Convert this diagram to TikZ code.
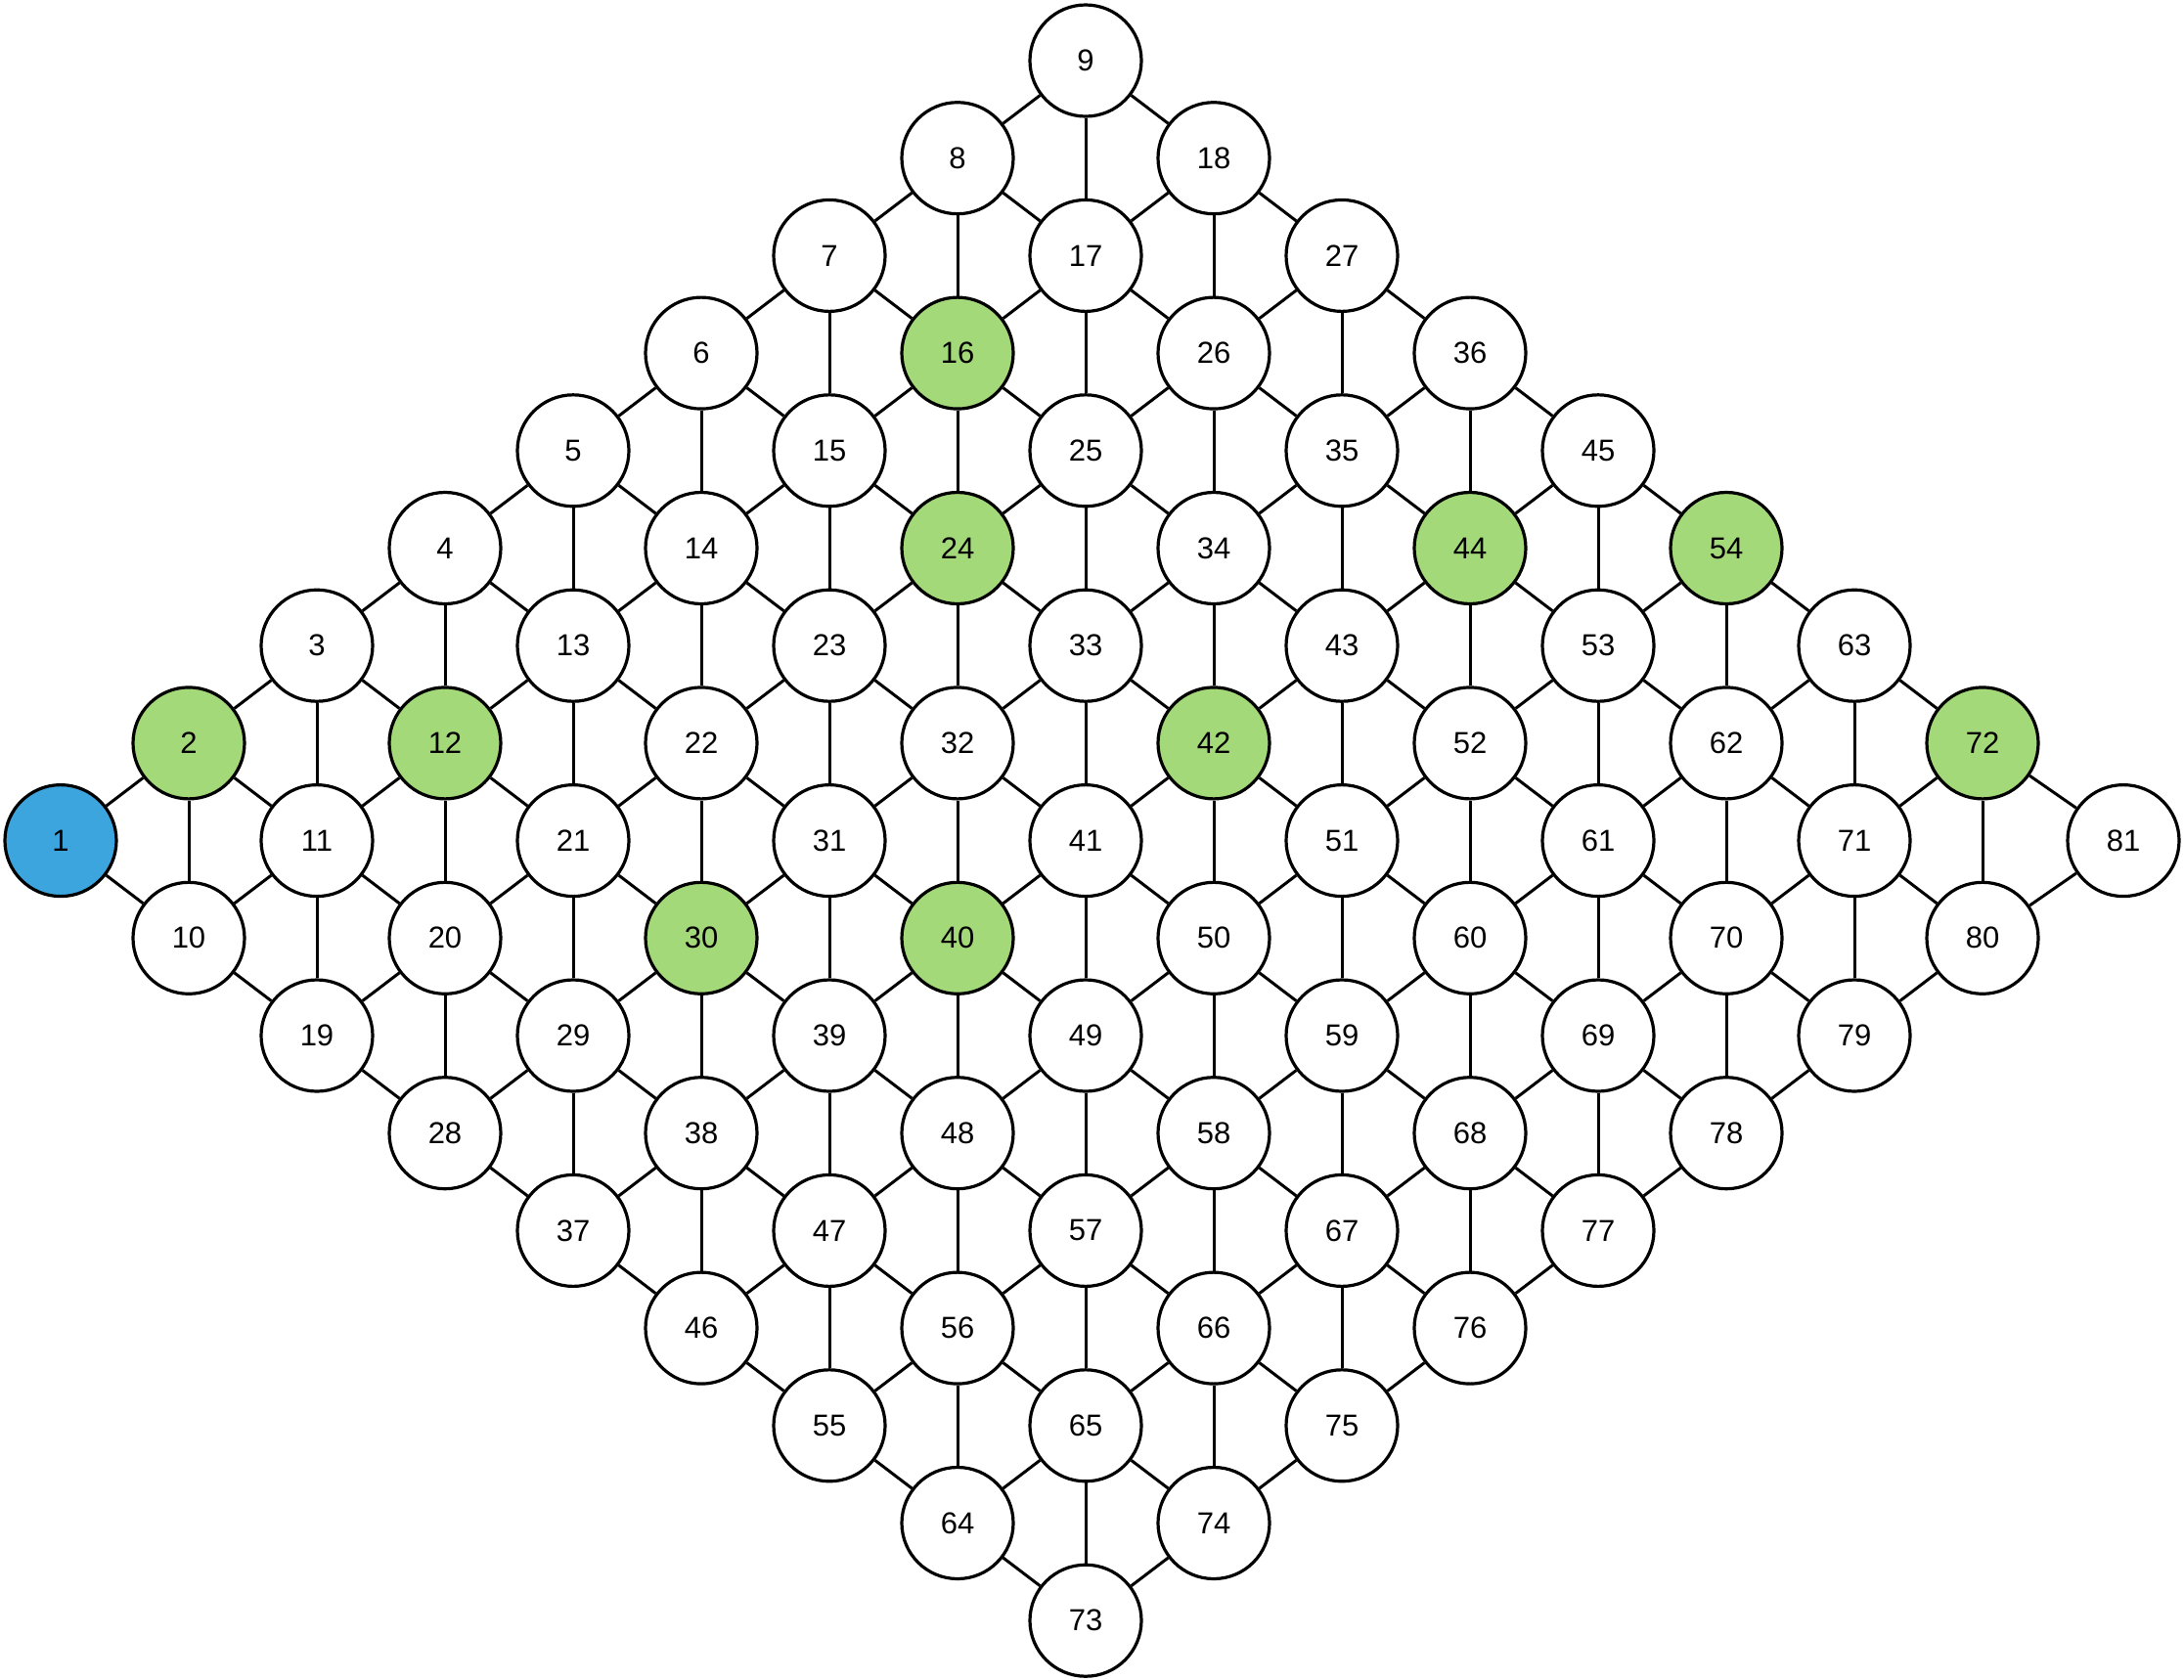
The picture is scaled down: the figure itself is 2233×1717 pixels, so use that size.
\documentclass[tikz,border=0pt]{standalone}
\usepackage{fontspec}
\setmainfont{Liberation Sans}
\definecolor{myblue}{HTML}{3DA5DE}
\definecolor{mygreen}{HTML}{A3D979}
\begin{document}
\begin{tikzpicture}[x=1pt,y=-1pt,
  nd/.style={circle,draw=black,line width=3.2pt,fill=white,minimum size=114pt,inner sep=0pt,font=\fontsize{31}{37}\selectfont},
  ed/.style={line width=3pt},
  f1/.style={fill=myblue},
  f2/.style={fill=mygreen}, f12/.style={fill=mygreen}, f16/.style={fill=mygreen},
  f24/.style={fill=mygreen}, f30/.style={fill=mygreen}, f40/.style={fill=mygreen},
  f42/.style={fill=mygreen}, f44/.style={fill=mygreen}, f54/.style={fill=mygreen},
  f72/.style={fill=mygreen}]
\useasboundingbox (0,0) rectangle (2233,1717);
\foreach \a in {0,...,8}{\foreach \b in {0,...,8}{
  \pgfmathtruncatemacro\n{9*\a+\b+1}
  \pgfmathsetmacro\xx{62+131*(\a+\b)}
  \pgfmathsetmacro\yy{62+99.7*(8-\b+\a)}
  \ifnum\n=81 \def\xx{2171}\fi
  \node[nd,f\n/.try] (n\n) at (\xx,\yy) {\n};
}}
\foreach \a in {0,...,8}{\foreach \b in {0,...,8}{
  \pgfmathtruncatemacro\n{9*\a+\b+1}
  \pgfmathtruncatemacro\nr{\n+1}
  \pgfmathtruncatemacro\nd{\n+9}
  \pgfmathtruncatemacro\nv{\n+8}
  \ifnum\b<8 \draw[ed] (n\n) -- (n\nr);\fi
  \ifnum\a<8 \draw[ed] (n\n) -- (n\nd);\fi
  \ifnum\a<8 \ifnum\b>0 \draw[ed] (n\n) -- (n\nv);\fi\fi
}}
\end{tikzpicture}
\end{document}
